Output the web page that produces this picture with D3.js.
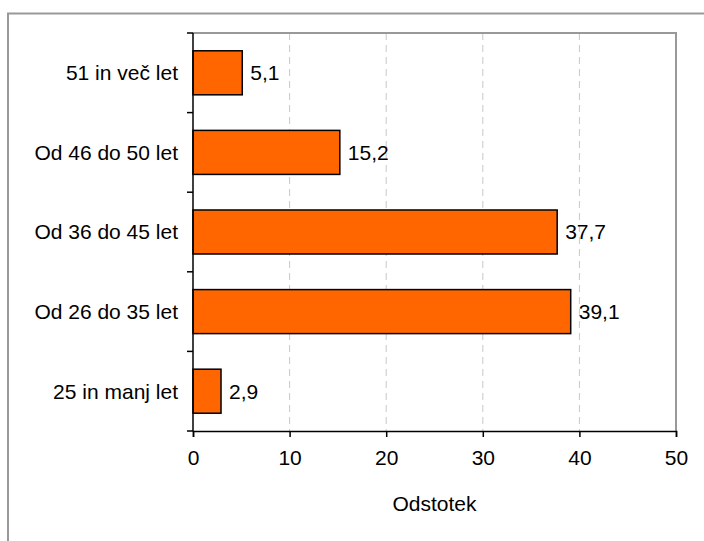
<!DOCTYPE html>
<html><head><meta charset="utf-8">
<script src="https://cdn.jsdelivr.net/npm/d3@7"></script>
<style>body{margin:0;background:#fff}svg{display:block}</style>
</head><body>
<script>
const categories = ["51 in več let","Od 46 do 50 let","Od 36 do 45 let","Od 26 do 35 let","25 in manj let"];
const values = [5.1, 15.2, 37.7, 39.1, 2.9];
const xTicks = [0,10,20,30,40,50];
const xTitle = "Odstotek";

const W=704,H=541;
const svg=d3.select("body").append("svg").attr("width",W).attr("height",H);
const font="'Liberation Sans', Arial, sans-serif";
const fs=21;
svg.append("rect").attr("x",8).attr("y",13.5).attr("width",720).attr("height",560)
  .attr("fill","#fff").attr("stroke","#999").attr("stroke-width",2);

const L=193,R=676,T=33,B=431;
const x=d3.scaleLinear().domain([0,50]).range([L,R]);
const y=d3.scaleBand().domain(categories).range([T,B]).paddingInner(0.447).paddingOuter(0.2235);

// grid
svg.append("g").selectAll("line").data(xTicks.filter(d=>d>0&&d<50)).join("line")
  .attr("x1",d=>x(d)).attr("x2",d=>x(d)).attr("y1",T).attr("y2",B)
  .attr("stroke","#c8c8c8").attr("stroke-width",1).attr("stroke-dasharray","7,5");
// plot border top/right
svg.append("path").attr("d",`M${L},${T}H${R}V${B}`).attr("fill","none").attr("stroke","#999").attr("stroke-width",2);

// bars
svg.append("g").selectAll("rect").data(values).join("rect")
  .attr("x",x(0)).attr("y",(d,i)=>y(categories[i]))
  .attr("width",d=>x(d)-x(0)).attr("height",y.bandwidth())
  .attr("fill","#FF6600").attr("stroke","#000").attr("stroke-width",1.5);

// value labels
svg.append("g").selectAll("text").data(values).join("text")
  .attr("x",d=>x(d)+8).attr("y",(d,i)=>y(categories[i])+y.bandwidth()/2)
  .attr("dy","0.35em").attr("font-family",font).attr("font-size",fs).attr("fill","#000")
  .text(d=>d.toFixed(1).replace(".",","));

// x axis
const xa=svg.append("g").attr("transform",`translate(0,${B})`)
  .call(d3.axisBottom(x).tickValues(xTicks).tickSize(6).tickPadding(13).tickFormat(d3.format("d")));
xa.select(".domain").attr("stroke","#000").attr("stroke-width",1.5);
xa.selectAll(".tick line").attr("stroke","#000").attr("stroke-width",1.5);
xa.selectAll("text").attr("font-family",font).attr("font-size",fs).attr("fill","#000");

// y axis
const yb=d3.scaleLinear().domain([0,5]).range([T,B]);
const yg=svg.append("g");
yg.append("line").attr("x1",L).attr("x2",L).attr("y1",T).attr("y2",B).attr("stroke","#000").attr("stroke-width",1.5);
yg.selectAll("line.t").data(d3.range(0,6)).join("line").attr("class","t")
  .attr("x1",L-6).attr("x2",L).attr("y1",d=>yb(d)).attr("y2",d=>yb(d)).attr("stroke","#000").attr("stroke-width",1.5);
yg.selectAll("text").data(categories).join("text")
  .attr("x",178).attr("y",d=>y(d)+y.bandwidth()/2).attr("dy","0.35em")
  .attr("text-anchor","end").attr("font-family",font).attr("font-size",fs).attr("fill","#000").text(d=>d);

svg.append("text").attr("x",(L+R)/2).attr("y",511).attr("text-anchor","middle")
  .attr("font-family",font).attr("font-size",fs).attr("fill","#000").text(xTitle);
</script>
</body></html>
